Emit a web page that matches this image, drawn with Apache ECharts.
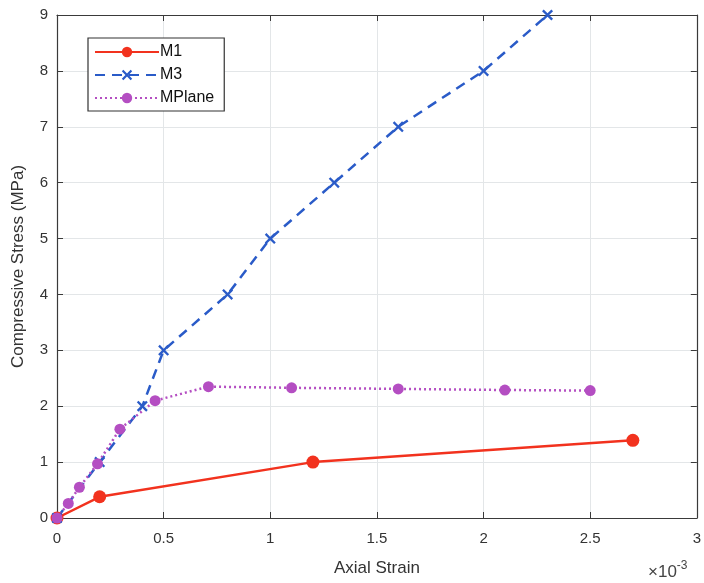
<!DOCTYPE html>
<html><head><meta charset="utf-8">
<script src="https://cdn.jsdelivr.net/npm/echarts@6/dist/echarts.min.js"></script>
<style>html,body{margin:0;padding:0;background:#fff}#c{width:704px;height:583px}</style>
</head><body><div id="c"></div>
<script>
// Data (axial strain in units of 1e-3, stress in MPa)
var m1Strain = [0, 0.2, 1.2, 2.7];
var m1Stress = [0, 0.38, 1.0, 1.39];
var m3Strain = [0, 0.2, 0.4, 0.5, 0.8, 1.0, 1.3, 1.6, 2.0, 2.3];
var m3Stress = [0, 1, 2, 3, 4, 5, 6, 7, 8, 9];
var mpStrain = [0, 0.053, 0.105, 0.19, 0.295, 0.46, 0.71, 1.1, 1.6, 2.1, 2.5];
var mpStress = [0, 0.26, 0.55, 0.97, 1.59, 2.1, 2.35, 2.33, 2.31, 2.29, 2.28];
var seriesNames = ['M1', 'M3', 'MPlane'];
var xTicks = [0, 0.5, 1, 1.5, 2, 2.5, 3];
var yTicks = [0, 1, 2, 3, 4, 5, 6, 7, 8, 9];

function pairs(xs, ys){ return xs.map(function(x,i){return [x, ys[i]];}); }
var font = 'Liberation Sans, Arial, sans-serif';
var axisCol = '#3a3a3a';
var xSymbol = 'path://M0,1.5L1.5,0L5,3.5L8.5,0L10,1.5L6.5,5L10,8.5L8.5,10L5,6.5L1.5,10L0,8.5L3.5,5Z';

var chart = echarts.init(document.getElementById('c'), null, {renderer:'canvas'});
var baseAxis = {
  axisLine:{show:true, onZero:false, lineStyle:{color:axisCol, width:1.2}},
  axisTick:{show:true, inside:true, length:6, lineStyle:{color:axisCol}},
  splitLine:{show:false},
  axisLabel:{show:false}
};
chart.setOption({
  animation:false,
  grid:{left:57, right:7, top:15, bottom:65, containLabel:false},
  title:{
    text:'{a|×10}{b|-3}', left:643, top:555,
    textStyle:{fontWeight:'normal', rich:{
      a:{fontFamily:font, fontSize:17, color:'#444', fontWeight:'normal'},
      b:{fontFamily:font, fontSize:12, color:'#444', fontWeight:'normal', verticalAlign:'top', padding:[0,0,12,0]}
    }}
  },
  legend:{
    data:seriesNames, orient:'vertical', left:88, top:38,
    itemWidth:64, itemHeight:13, itemGap:7,
    padding:[6,10,5,6],
    borderColor:'#333', borderWidth:1.2, backgroundColor:'#fff',
    textStyle:{fontFamily:font, fontSize:16, color:'#111', padding:[0,0,0,-4]}
  },
  xAxis:[
    Object.assign({}, baseAxis, {
      type:'value', min:0, max:3, interval:0.5, position:'bottom',
      axisLabel:{show:true, fontFamily:font, fontSize:15, color:'#333', margin:13,
        formatter:function(v){return String(v);}},
      splitLine:{show:true, lineStyle:{color:'#e3e6e8', width:1}},
      name:'Axial Strain', nameLocation:'middle', nameGap:42,
      nameTextStyle:{fontFamily:font, fontSize:17, color:'#333'}
    }),
    Object.assign({}, baseAxis, {type:'value', min:0, max:3, interval:0.5, position:'top'})
  ],
  yAxis:[
    Object.assign({}, baseAxis, {
      type:'value', min:0, max:9, interval:1, position:'left',
      axisLabel:{show:true, fontFamily:font, fontSize:15, color:'#333', margin:9},
      splitLine:{show:true, lineStyle:{color:'#e3e6e8', width:1}},
      name:'Compressive Stress (MPa)', nameLocation:'middle', nameGap:30,
      nameTextStyle:{fontFamily:font, fontSize:17, color:'#333'}
    }),
    Object.assign({}, baseAxis, {type:'value', min:0, max:9, interval:1, position:'right'})
  ],
  series:[
    {name:seriesNames[0], type:'line', data:pairs(m1Strain, m1Stress),
     symbol:'circle', symbolSize:13, color:'#f2321e',
     lineStyle:{width:2.5, type:'solid', color:'#f2321e'},
     itemStyle:{color:'#f2321e'}},
    {name:seriesNames[1], type:'line', data:pairs(m3Strain, m3Stress),
     symbol:xSymbol, symbolSize:11, color:'#2a5bc8',
     lineStyle:{width:2.5, type:[10,7], color:'#2a5bc8'},
     itemStyle:{color:'#2a5bc8'}},
    {name:seriesNames[2], type:'line', data:pairs(mpStrain, mpStress),
     symbol:'circle', symbolSize:11, color:'#b44ec2',
     lineStyle:{width:2.5, type:[2,3], color:'#b44ec2'},
     itemStyle:{color:'#b44ec2'}}
  ]
});
</script></body></html>
